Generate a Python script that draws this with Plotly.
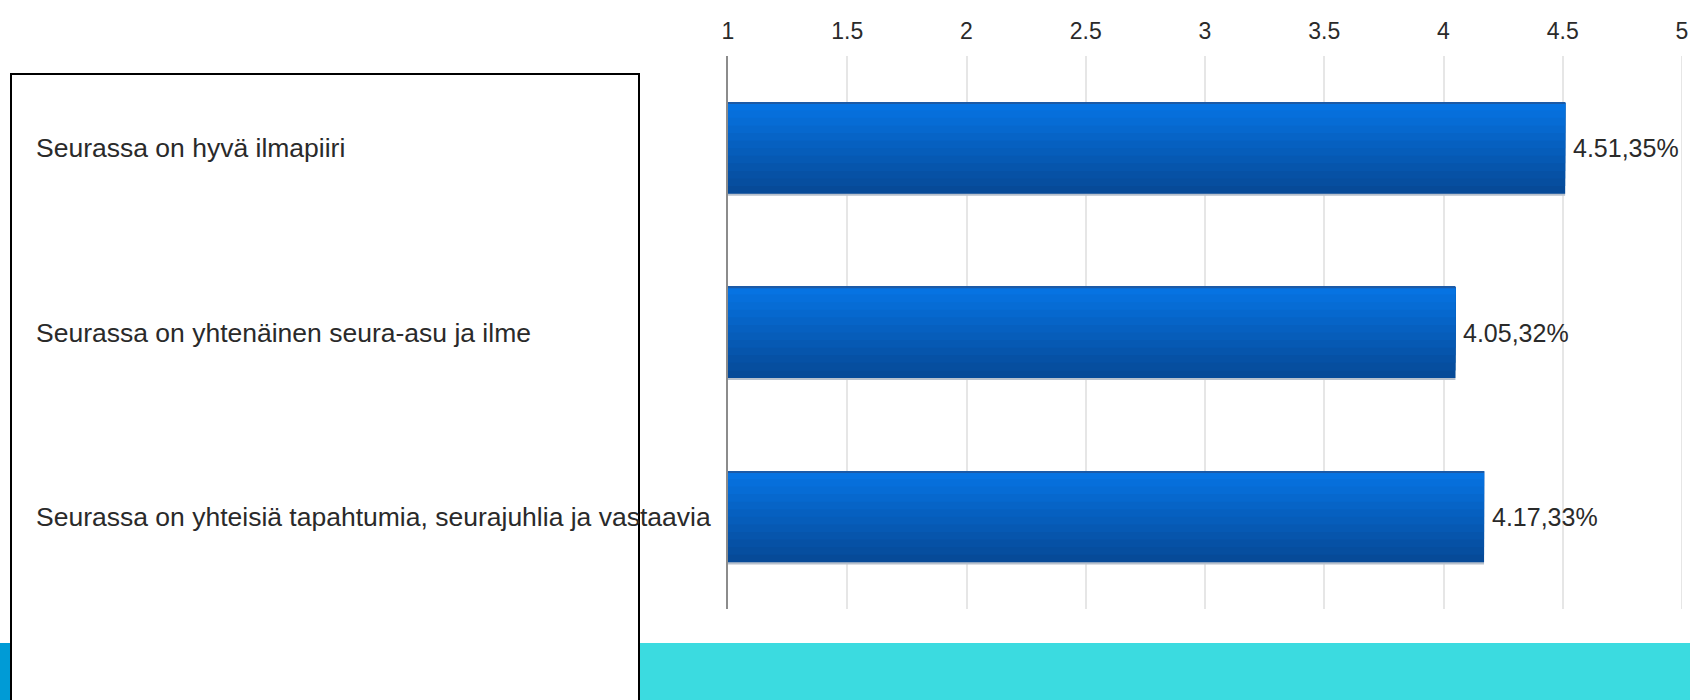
import plotly.graph_objects as go

# ---------------- data ----------------
categories = [
    "Seurassa on hyvä ilmapiiri",
    "Seurassa on yhtenäinen seura-asu ja ilme",
    "Seurassa on yhteisiä tapahtumia, seurajuhlia ja vastaavia",
]
means = [4.51, 4.05, 4.17]
shares = [35, 32, 33]
tick_values = [1, 1.5, 2, 2.5, 3, 3.5, 4, 4.5, 5]
tick_labels = ["1", "1.5", "2", "2.5", "3", "3.5", "4", "4.5", "5"]

# ---------------- style ----------------
FONT = "Liberation Sans, Arial, sans-serif"
TEXT_COLOR = "#2a2a2a"
GRID = "#e6e6e6"
W = 0.494            # bar thickness in category units
N_LAYERS = 12
C_BOTTOM = (6, 74, 152)
C_TOP = (6, 115, 226)


def mix(a, b, t):
    return "rgb(%d,%d,%d)" % tuple(round(a[j] + (b[j] - a[j]) * t) for j in range(3))


fig = go.Figure()

# soft shadow under each bar
fig.add_trace(go.Bar(
    y=categories, x=means, orientation="h",
    width=[W] * len(means), offset=[-W / 2 + 0.011] * len(means),
    marker=dict(color="#b7c0cc", line=dict(width=0)),
    hoverinfo="skip", showlegend=False,
))

# vertical gradient built from stacked overlay layers (dark bottom -> light top)
for i in range(N_LAYERS):
    k = 1 - i / N_LAYERS
    t = i / (N_LAYERS - 1)
    fig.add_trace(go.Bar(
        y=categories, x=means, orientation="h",
        width=[W * k] * len(means), offset=[-W / 2] * len(means),
        marker=dict(color=mix(C_BOTTOM, C_TOP, t), line=dict(width=0)),
        hoverinfo="skip", showlegend=False,
    ))

# thin darker top edge
fig.add_trace(go.Bar(
    y=categories, x=means, orientation="h",
    width=[0.007] * len(means), offset=[-W / 2] * len(means),
    marker=dict(color="#1c5aa6", line=dict(width=0)),
    hoverinfo="skip", showlegend=False,
))

annotations = []
# value labels at bar ends
for c, m, s in zip(categories, means, shares):
    annotations.append(dict(
        x=m, y=c, xref="x", yref="y", text=f"{m:.2f},{s}%",
        showarrow=False, xanchor="left", yanchor="middle", xshift=6,
        font=dict(family=FONT, size=25, color=TEXT_COLOR),
    ))
# category labels, left aligned inside the box
for c in categories:
    annotations.append(dict(
        x=-0.7274, y=c, xref="paper", yref="y", text=c,
        showarrow=False, xanchor="left", yanchor="middle",
        font=dict(family=FONT, size=26.5, color=TEXT_COLOR),
    ))

shapes = [
    # gridline at the right end of the axis
    dict(type="line", xref="x", yref="paper", x0=tick_values[-1], x1=tick_values[-1],
         y0=0, y1=1, line=dict(color=GRID, width=2), layer="below"),
    # cyan footer band
    dict(type="rect", xref="paper", yref="paper", xsizemode="pixel", ysizemode="pixel",
         xanchor=0, yanchor=0, x0=-740, x1=975, y0=-34, y1=-110,
         fillcolor="#3bdbe0", line=dict(width=0), layer="above"),
    # blue strip at far left of the band
    dict(type="rect", xref="paper", yref="paper", xsizemode="pixel", ysizemode="pixel",
         xanchor=0, yanchor=0, x0=-740, x1=-718, y0=-34, y1=-110,
         fillcolor="#009bd6", line=dict(width=0), layer="above"),
    # white label box with black border
    dict(type="rect", xref="paper", yref="paper", xsizemode="pixel", ysizemode="pixel",
         xanchor=0, yanchor=0, x0=-717, x1=-89, y0=-120, y1=535,
         fillcolor="white", line=dict(color="black", width=2), layer="above"),
]

fig.update_layout(
    width=1690, height=700,
    margin=dict(l=728, r=2, t=56, b=91, pad=0),
    paper_bgcolor="white", plot_bgcolor="white",
    barmode="overlay",
    font=dict(family=FONT, size=26, color=TEXT_COLOR),
    xaxis=dict(
        side="top", range=[1, 5], tickvals=tick_values, ticktext=tick_labels,
        showgrid=True, gridcolor=GRID, gridwidth=2,
        zeroline=False, showline=False, ticks="",
        ticklabelstandoff=11, ticklabeloverflow="allow",
        tickfont=dict(family=FONT, size=23, color=TEXT_COLOR),
        fixedrange=True,
    ),
    yaxis=dict(
        type="category", categoryorder="array", categoryarray=categories,
        autorange="reversed", showticklabels=False, showgrid=False,
        zeroline=False, showline=True, linecolor="#8c8c8c", linewidth=2,
        ticks="", fixedrange=True,
    ),
    annotations=annotations,
    shapes=shapes,
    showlegend=False,
)

fig.write_html(
    "out.html",
    config={"displayModeBar": False},
    post_script="document.body.style.margin='0';document.body.style.overflow='hidden';",
)
